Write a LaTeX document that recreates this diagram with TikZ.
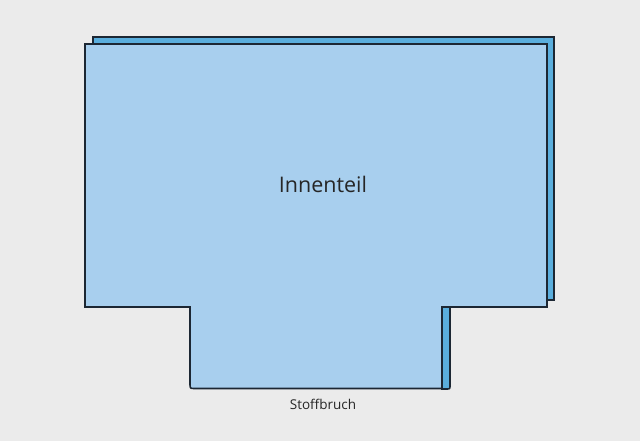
\documentclass[tikz,border=0pt]{standalone}
\usepackage{fontspec}
\setmainfont{Open Sans}
\definecolor{bg}{HTML}{EBEBEB}
\definecolor{frontc}{HTML}{A8CFEE}
\definecolor{backc}{HTML}{5AAEDD}
\definecolor{edge}{HTML}{1C2733}
\begin{document}
\begin{tikzpicture}[x=1pt,y=-1pt,
  piece/.style={draw=edge,line width=1.6pt,line join=miter},
  lbl/.style={text=black!85,inner sep=0pt}]
\fill[bg] (0,0) rectangle (640,441);
\useasboundingbox (0,0) rectangle (640,441);
% back layer
\draw[piece,fill=backc] (93,37) -- (554,37) -- (554,300) -- (450,300) -- (450,385)
  .. controls (450,389) .. (446,389) -- (442,389) -- (442,300) -- (93,300) -- cycle;
% front layer
\draw[piece,fill=frontc] (85,44) -- (547,44) -- (547,307) -- (442,307) -- (442,388.5)
  -- (195,388.5) .. controls (190,388.5) .. (190,383.5) -- (190,307) -- (85,307) -- cycle;
\node[lbl,font=\fontsize{21.5}{25}\selectfont] (title) at (323,184) {Innenteil};
\node[lbl,font=\fontsize{13.5}{16}\selectfont] (fold) at (323,404) {Stoffbruch};
\end{tikzpicture}
\end{document}
